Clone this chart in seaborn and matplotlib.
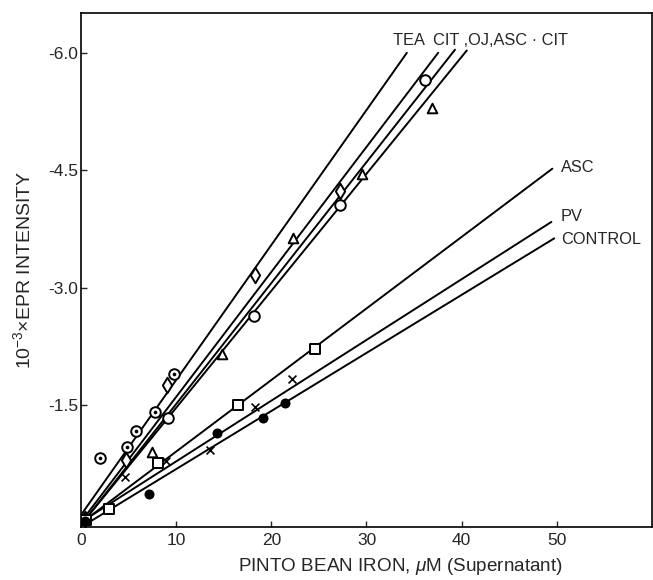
import numpy as np
import matplotlib
matplotlib.use("Agg")
import matplotlib.pyplot as plt
import seaborn as sns

# EPR intensity (x10^-3, shown negative) vs pinto bean iron
# point series
tea_x = [2.03, 4.84, 5.80, 7.75, 9.76]
tea_y = [-0.82, -0.97, -1.17, -1.41, -1.90]
cit_x = [0.45, 4.74, 9.03, 18.29, 27.23]
cit_y = [-0.04, -0.80, -1.76, -3.16, -4.23]
oj_x = [0.45, 9.13, 18.20, 27.23, 36.17]
oj_y = [-0.04, -1.33, -2.64, -4.05, -5.65]
asccit_x = [7.45, 14.78, 22.31, 29.54, 36.87]
asccit_y = [-0.90, -2.15, -3.63, -4.45, -5.30]
asc_x = [0.55, 2.93, 8.11, 16.49, 24.62]
asc_y = [-0.03, -0.17, -0.76, -1.50, -2.22]
pv_x = [4.64, 8.96, 13.58, 18.29, 22.21]
pv_y = [-0.58, -0.78, -0.93, -1.47, -1.83]
ctrl_x = [0.40, 7.20, 14.28, 19.10, 21.41]
ctrl_y = [-0.02, -0.37, -1.14, -1.33, -1.53]

# fitted lines: end points
fit_lines = {
    "TEA": ([0.14, 34.24], [-0.12, -6.00]),
    "CIT": ([0.14, 37.53], [-0.03, -6.00]),
    "OJ": ([0.20, 39.30], [0.00, -6.04]),
    "ASC-CIT": ([0.20, 40.54], [0.00, -6.03]),
    "ASC": ([0.20, 49.53], [-0.01, -4.52]),
    "PV": ([0.20, 49.43], [-0.02, -3.84]),
    "CONTROL": ([0.80, 49.73], [0.00, -3.63]),
}

x_ticks = [0, 10, 20, 30, 40, 50]
y_ticks = [-1.5, -3.0, -4.5, -6.0]

sns.set_style("ticks")
plt.rcParams['font.family'] = ['Liberation Sans', 'DejaVu Sans']
plt.rcParams['axes.unicode_minus'] = False
plt.rcParams['mathtext.fontset'] = 'custom'
plt.rcParams['mathtext.rm'] = 'Liberation Sans'
plt.rcParams['mathtext.it'] = 'Liberation Sans:italic'

fig = plt.figure(figsize=(6.53, 5.80), dpi=100)
ax = fig.add_axes([0.124, 0.0914, 0.8745, 0.886])

for name, (lx, ly) in fit_lines.items():
    sns.lineplot(x=lx, y=ly, ax=ax, color='black', lw=1.4,
                 estimator=None, sort=False, legend=False)

open_kw = dict(facecolor='white', edgecolor='black', linewidth=1.4, zorder=3)
sns.scatterplot(x=tea_x, y=tea_y, ax=ax, marker='o', s=58, **open_kw)
sns.scatterplot(x=tea_x, y=tea_y, ax=ax, marker='o', s=7, color='black',
                linewidth=0, zorder=4)
sns.scatterplot(x=cit_x, y=cit_y, ax=ax, marker='d', s=62, **open_kw)
sns.scatterplot(x=oj_x, y=oj_y, ax=ax, marker='o', s=58, **open_kw)
sns.scatterplot(x=asccit_x, y=asccit_y, ax=ax, marker='^', s=48, **open_kw)
sns.scatterplot(x=asc_x, y=asc_y, ax=ax, marker='s', s=52, **open_kw)
sns.scatterplot(x=pv_x, y=pv_y, ax=ax, marker='x', s=32, color='black',
                linewidth=1.2, zorder=3)
sns.scatterplot(x=ctrl_x, y=ctrl_y, ax=ax, marker='o', s=52, color='black',
                linewidth=0, zorder=3)

ax.set_xlim(0.14, 60)
ax.set_ylim(0.057, -6.507)
ax.set_xticks(x_ticks)
ax.set_yticks(y_ticks)
ax.set_yticklabels([f"{v:.1f}" for v in y_ticks])
ax.tick_params(direction='in', length=4, width=1, labelsize=12.5, pad=4)
ax.tick_params(axis='y', pad=2)
for sp in ax.spines.values():
    sp.set_linewidth(1.2)
    sp.set_color('black')

ax.set_xlabel(r"PINTO BEAN IRON, $\mathit{\mu}$M (Supernatant)", fontsize=13.6)
ax.xaxis.set_label_coords(0.559, -0.056)
ax.set_ylabel(r"10$^{-3}$×EPR INTENSITY", fontsize=14)
ax.yaxis.set_label_coords(-0.082, 0.5)

ax.text(32.8, -6.16, "TEA  CIT ,OJ,ASC · CIT", fontsize=11.8, va='center', ha='left')
ax.text(50.4, -4.54, "ASC", fontsize=11.8, va='center', ha='left')
ax.text(50.4, -3.91, "PV", fontsize=11.8, va='center', ha='left')
ax.text(50.4, -3.61, "CONTROL", fontsize=11.8, va='center', ha='left')

plt.savefig("out.png", dpi=100)
